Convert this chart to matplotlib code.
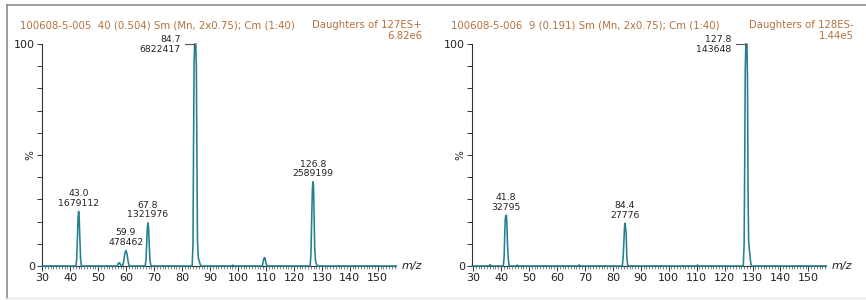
import matplotlib
matplotlib.use("Agg")
import matplotlib.pyplot as plt
from matplotlib.lines import Line2D

W, H = 866, 300

TRACE_COLOR = "#24808f"
TITLE_COLOR = "#b5703c"
TEXT_COLOR = "#222222"

# ---- left spectrum: 100608-5-005, daughters of 127ES+ ----
left_mz = [29.9, 42.0, 42.3, 42.6, 42.8, 43.0, 43.2, 43.4, 43.7, 44.0,
           56.8, 57.2, 57.5, 57.8, 58.2, 58.7, 59.1, 59.5, 59.9, 60.3, 60.7, 61.1,
           66.8, 67.1, 67.4, 67.6, 67.8, 68.0, 68.2, 68.5, 68.9,
           83.6, 83.9, 84.1, 84.3, 84.5, 84.9, 85.1, 85.3, 85.5, 85.8, 86.1, 86.4, 86.8,
           97.8, 98.1, 98.4,
           108.7, 109.0, 109.3, 109.6, 109.9, 110.3,
           125.8, 126.1, 126.4, 126.6, 126.8, 127.0, 127.2, 127.4, 127.7, 128.0, 128.4, 156.5]
left_pct = [0, 0, 3, 14, 22, 24.6, 22, 14, 3, 0,
            0, 1.2, 1.5, 1.0, 0.3, 0, 2, 5.5, 7.0, 5.5, 2, 0,
            0, 3, 12, 17.5, 19.4, 17.5, 11, 2.5, 0,
            0, 10, 55, 92, 100, 100, 90, 50, 12, 3.5, 2.5, 1, 0,
            0, 0.4, 0,
            0, 2.0, 3.6, 3.8, 2.0, 0,
            0, 6, 24, 35, 37.95, 36, 24, 9, 2.5, 1, 0, 0]
left_peak_mz = [43.0, 59.9, 67.8, 126.8]
left_peak_pct = [24.6, 7.0, 19.4, 37.95]
left_peak_counts = ["1679112", "478462", "1321976", "2589199"]
left_base_mz, left_base_counts = 84.7, "6822417"
left_title = "100608-5-005  40 (0.504) Sm (Mn, 2x0.75); Cm (1:40)"
left_func = "Daughters of 127ES+"
left_max = "6.82e6"

# ---- right spectrum: 100608-5-006, daughters of 128ES- ----
right_mz = [29.6, 35.7, 36.0, 36.3, 36.6,
            40.8, 41.1, 41.3, 41.5, 41.7, 41.9, 42.1, 42.3, 42.6, 42.9,
            45.5, 45.8, 46.1, 67.7, 68.0, 68.3,
            83.4, 83.7, 84.0, 84.2, 84.4, 84.6, 84.8, 85.0, 85.3, 85.6,
            110.0, 110.3, 110.6,
            126.7, 127.0, 127.2, 127.4, 127.6, 128.0, 128.2, 128.4, 128.6, 128.8,
            129.0, 129.3, 129.6, 156.3]
right_pct = [0, 0, 0.6, 0.3, 0,
             0, 4, 14, 21, 22.8, 22.8, 19, 10, 3, 0,
             0, 0.4, 0, 0, 0.5, 0,
             0, 4, 12, 18, 19.3, 17, 14, 4, 0.5, 0,
             0, 0.5, 0,
             0, 10, 45, 88, 100, 100, 85, 35, 12, 8,
             6, 2, 0, 0]
right_peak_mz = [41.8, 84.4]
right_peak_pct = [22.8, 19.3]
right_peak_counts = ["32795", "27776"]
right_base_mz, right_base_counts = 127.8, "143648"
right_title = "100608-5-006  9 (0.191) Sm (Mn, 2x0.75); Cm (1:40)"
right_func = "Daughters of 128ES-"
right_max = "1.44e5"

fig = plt.figure(figsize=(W / 100, H / 100), dpi=100)
fig.patch.set_facecolor("white")


def px(x, y):
    return x / W, 1 - y / H


def spectrum(left_px, xlim, mz, pct, peak_mz, peak_pct, peak_counts,
             base_mz, base_counts, title, func, maxval, title_x, right_x):
    x0, y0 = px(left_px, 266)
    ax = fig.add_axes([x0, y0, 354 / W, 222 / H])
    ax.plot(mz, pct, color=TRACE_COLOR, lw=1.15, clip_on=False, zorder=3)
    ax.set_xlim(*xlim)
    ax.set_ylim(0, 100)

    for s in ("top", "right"):
        ax.spines[s].set_visible(False)
    for s in ("left", "bottom"):
        ax.spines[s].set_color("#333333")
        ax.spines[s].set_linewidth(0.8)

    ax.set_xticks(range(30, 151, 10))
    ax.set_xticks(range(30, 157, 1), minor=True)
    ax.set_yticks([0, 100])
    ax.set_yticks(range(0, 101, 10), minor=True)
    ax.tick_params(axis="both", which="major", direction="out", length=3.5,
                   width=0.7, colors="#333333", labelsize=8, pad=1.5,
                   labelcolor=TEXT_COLOR)
    ax.tick_params(axis="x", which="minor", direction="out", length=1.8,
                   width=0.5, colors="#555555")
    ax.tick_params(axis="y", which="minor", direction="out", length=3.5,
                   width=0.7, colors="#333333")

    ax.text(-0.032, 0.5, "%", transform=ax.transAxes, rotation=90,
            ha="center", va="center", fontsize=7.5, color=TEXT_COLOR)
    ax.text(1.015, 0.0, "m/z", transform=ax.transAxes, style="italic",
            ha="left", va="center", fontsize=8, color=TEXT_COLOR)

    for m, p, c in zip(peak_mz, peak_pct, peak_counts):
        ax.annotate(f"{m:.1f}\n{c}", xy=(m, p), xytext=(0, 2.5),
                    textcoords="offset points", ha="center", va="bottom",
                    fontsize=6.7, color=TEXT_COLOR, linespacing=1.1)

    # base peak label sits to the left with a small bracket leader
    ax.annotate(f"{base_mz:.1f}\n{base_counts}", xy=(base_mz - 0.3, 98),
                xytext=(-10, 3), textcoords="offset points",
                ha="right", va="center", fontsize=6.7, color=TEXT_COLOR,
                linespacing=1.1, annotation_clip=False,
                arrowprops=dict(arrowstyle="-", color="#555555", lw=0.8,
                                shrinkA=1, shrinkB=0,
                                connectionstyle="angle,angleA=0,angleB=90,rad=0"))

    tx, ty = px(title_x, 25)
    fig.text(tx, ty, title, ha="left", va="center", fontsize=7.3,
             color=TITLE_COLOR)
    rx, ry = px(right_x, 25)
    fig.text(rx, ry, func, ha="right", va="center", fontsize=7.3,
             color=TITLE_COLOR)
    rx, ry = px(right_x, 36)
    fig.text(rx, ry, maxval, ha="right", va="center", fontsize=7.3,
             color=TITLE_COLOR)
    return ax


spectrum(42, (29.9, 156.5), left_mz, left_pct, left_peak_mz, left_peak_pct,
         left_peak_counts, left_base_mz, left_base_counts,
         left_title, left_func, left_max, 20, 422)
spectrum(472, (29.6, 156.3), right_mz, right_pct, right_peak_mz, right_peak_pct,
         right_peak_counts, right_base_mz, right_base_counts,
         right_title, right_func, right_max, 451, 854)

# outer frame of the screenshot
fig.add_artist(Line2D([7 / W, 7 / W], [1 - 5 / H, 1 - 298 / H],
                      transform=fig.transFigure, color="#8a8a8a", lw=1.2))
fig.add_artist(Line2D([7 / W, 1], [1 - 5 / H, 1 - 5 / H],
                      transform=fig.transFigure, color="#8a8a8a", lw=1.2))
fig.add_artist(Line2D([7 / W, 1], [1 - 298 / H, 1 - 298 / H],
                      transform=fig.transFigure, color="#e2e2e2", lw=1.0))

fig.savefig("out.png", dpi=100)
